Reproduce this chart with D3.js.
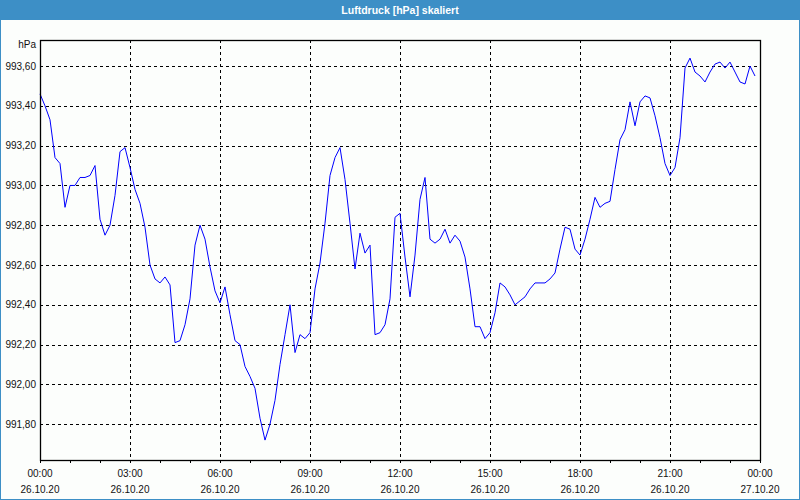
<!DOCTYPE html>
<html>
<head>
<meta charset="utf-8">
<script src="https://cdn.jsdelivr.net/npm/d3@7"></script>
<style>
  html, body { margin: 0; padding: 0; background: #fcfefc; }
  svg { display: block; }
  text { font-family: "Liberation Sans", Arial, sans-serif; }
</style>
</head>
<body>
<div id="chart"></div>
<script>
// Luftdruck in hPa, one reading every 10 minutes from 26.10.20 00:00
const pressure = [
  993.46, 993.40, 993.33, 993.14, 993.11, 992.89, 993.00, 993.00, 993.04, 993.04,
  993.05, 993.10, 992.83, 992.75, 992.80, 992.95, 993.17, 993.19, 993.09, 992.98,
  992.91, 992.79, 992.60, 992.53, 992.51, 992.54, 992.50, 992.21, 992.22, 992.30,
  992.43, 992.70, 992.80, 992.73, 992.59, 992.47, 992.41, 992.49, 992.35, 992.22,
  992.20, 992.09, 992.04, 991.98, 991.83, 991.72, 991.80, 991.92, 992.10, 992.25,
  992.40, 992.16, 992.25, 992.23, 992.26, 992.48, 992.61, 992.81, 993.05, 993.14,
  993.19, 993.03, 992.81, 992.58, 992.76, 992.66, 992.70, 992.25, 992.26, 992.30,
  992.43, 992.84, 992.86, 992.64, 992.44, 992.65, 992.93, 993.04, 992.73, 992.71,
  992.73, 992.78, 992.71, 992.75, 992.72, 992.64, 992.48, 992.29, 992.29, 992.23,
  992.26, 992.36, 992.51, 992.49, 992.45, 992.40, 992.42, 992.44, 992.48, 992.51,
  992.51, 992.51, 992.53, 992.56, 992.68, 992.79, 992.78, 992.68, 992.65, 992.73,
  992.83, 992.94, 992.89, 992.91, 992.92, 993.08, 993.23, 993.28, 993.42, 993.30,
  993.42, 993.45, 993.44, 993.35, 993.24, 993.11, 993.05, 993.09, 993.24, 993.59,
  993.64, 993.57, 993.55, 993.52, 993.57, 993.61, 993.62, 993.59, 993.62, 993.57,
  993.52, 993.51, 993.60, 993.55
];
const startTime = new Date(2020, 9, 26, 0, 0);
const endTime = new Date(2020, 9, 27, 0, 0);
const stepMinutes = 10;
const yTicks = [991.8, 992.0, 992.2, 992.4, 992.6, 992.8, 993.0, 993.2, 993.4, 993.6];
const yDomain = [991.62, 993.731];
const title = "Luftdruck [hPa] skaliert";
const unit = "hPa";

const width = 800, height = 500;
const margin = { top: 40, right: 40, bottom: 40, left: 40 };

const svg = d3.select("#chart").append("svg")
  .attr("width", width)
  .attr("height", height);

// window background + border
svg.append("rect")
  .attr("x", 0.5).attr("y", 0.5)
  .attr("width", width - 1).attr("height", height - 1)
  .attr("fill", "#fcfefc")
  .attr("stroke", "#3d8fc6");

// title bar
svg.append("rect")
  .attr("x", 0).attr("y", 0)
  .attr("width", width).attr("height", 20)
  .attr("fill", "#3d8fc6");
svg.append("text")
  .attr("x", width / 2).attr("y", 13.5)
  .attr("text-anchor", "middle")
  .attr("fill", "white")
  .attr("font-weight", "bold")
  .attr("font-size", "10.5px")
  .text(title);

const x = d3.scaleTime()
  .domain([startTime, endTime])
  .range([margin.left, width - margin.right]);
const y = d3.scaleLinear()
  .domain(yDomain)
  .range([height - margin.bottom, margin.top]);

const data = pressure.map((v, i) => ({
  t: new Date(startTime.getTime() + i * stepMinutes * 60000),
  v: v
}));

const snap = v => Math.round(v) + 0.5;

// grid
const grid = svg.append("g")
  .attr("stroke", "#000")
  .attr("stroke-width", 1)
  .attr("stroke-dasharray", "3,3");
grid.selectAll("line.h")
  .data(yTicks)
  .enter().append("line")
  .attr("class", "h")
  .attr("x1", margin.left).attr("x2", width - margin.right)
  .attr("y1", d => snap(y(d))).attr("y2", d => snap(y(d)));
const majorTimes = d3.timeHour.every(3).range(startTime, endTime).slice(1);
grid.selectAll("line.v")
  .data(majorTimes)
  .enter().append("line")
  .attr("class", "v")
  .attr("y1", margin.top).attr("y2", height - margin.bottom)
  .attr("x1", d => snap(x(d))).attr("x2", d => snap(x(d)));

// line
svg.append("path")
  .datum(data)
  .attr("fill", "none")
  .attr("stroke", "#0000ff")
  .attr("stroke-width", 1)
  .attr("d", d3.line().x(d => x(d.t)).y(d => y(d.v)));

// frame
svg.append("rect")
  .attr("x", margin.left + 0.5).attr("y", margin.top + 0.5)
  .attr("width", width - margin.left - margin.right)
  .attr("height", height - margin.top - margin.bottom)
  .attr("fill", "none")
  .attr("stroke", "#000")
  .attr("stroke-width", 1.3);

// x axis: hourly ticks, labels every 3 hours
const hours = d3.timeHour.every(1).range(startTime, d3.timeMinute.offset(endTime, 1));
svg.append("g").selectAll("line")
  .data(hours)
  .enter().append("line")
  .attr("x1", d => snap(x(d))).attr("x2", d => snap(x(d)))
  .attr("y1", height - margin.bottom).attr("y2", height - margin.bottom + 3)
  .attr("stroke", "#000");

const labelTimes = d3.timeHour.every(3).range(startTime, d3.timeMinute.offset(endTime, 1));
const fmtTime = d3.timeFormat("%H:%M");
const fmtDate = d3.timeFormat("%d.%m.%y");
const xl = svg.append("g")
  .attr("font-size", "10px")
  .attr("fill", "#111")
  .attr("text-anchor", "middle");
xl.selectAll("text.t")
  .data(labelTimes)
  .enter().append("text")
  .attr("x", d => x(d)).attr("y", 477)
  .text(d => fmtTime(d));
xl.selectAll("text.d")
  .data(labelTimes)
  .enter().append("text")
  .attr("x", d => x(d)).attr("y", 493)
  .text(d => fmtDate(d));

// y labels
const fmtY = v => d3.format(".2f")(v).replace(".", ",");
const yl = svg.append("g")
  .attr("font-size", "10px")
  .attr("fill", "#111")
  .attr("text-anchor", "end");
yl.selectAll("text")
  .data(yTicks)
  .enter().append("text")
  .attr("x", 36)
  .attr("y", d => y(d) + 3.5)
  .text(d => fmtY(d));
yl.append("text")
  .attr("x", 36).attr("y", 48)
  .text(unit);
</script>
</body>
</html>
